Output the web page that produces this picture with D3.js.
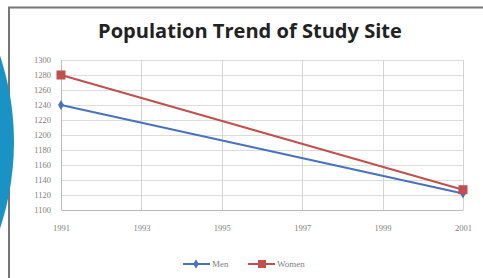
<!DOCTYPE html>
<html><head><meta charset="utf-8">
<script src="https://cdn.jsdelivr.net/npm/d3@7"></script>
<style>html,body{margin:0;padding:0;background:#fff;}svg{display:block;}</style>
</head><body>
<svg id="c" width="483" height="278"></svg>
<script>
const title = "Population Trend of Study Site";
const years = [1991, 2001];
const menValues = [1240, 1122];
const womenValues = [1280, 1127];
const xTicks = [1991, 1993, 1995, 1997, 1999, 2001];
const yTicks = [1100,1120,1140,1160,1180,1200,1220,1240,1260,1280,1300];
const seriesNames = ["Men", "Women"];
const colors = ["#4A72B8", "#C0504D"];

const svg = d3.select("#c");
const W = 483, H = 278;
const m = {left: 61, right: 20, top: 60, bottom: 68};

// frame
svg.append("line").attr("x1", 8).attr("x2", W).attr("y1", 7.5).attr("y2", 7.5).attr("stroke", "#777").attr("stroke-width", 2);
svg.append("line").attr("x1", 9).attr("x2", 9).attr("y1", 7).attr("y2", H).attr("stroke", "#777").attr("stroke-width", 2);

const x = d3.scaleLinear().domain([1991, 2001]).range([m.left, W - m.right]);
const y = d3.scaleLinear().domain([1100, 1300]).range([H - m.bottom, m.top]);

// gridlines
svg.append("g").selectAll("line").data(yTicks).join("line")
  .attr("x1", m.left).attr("x2", W - m.right)
  .attr("y1", d => Math.round(y(d)) + 0.5).attr("y2", d => Math.round(y(d)) + 0.5)
  .attr("stroke", "#dcdcdc").attr("stroke-width", 1);
svg.append("g").selectAll("line").data(xTicks).join("line")
  .attr("x1", d => Math.round(x(d)) + 0.5).attr("x2", d => Math.round(x(d)) + 0.5)
  .attr("y1", m.top).attr("y2", H - m.bottom)
  .attr("stroke", "#d4d4d4").attr("stroke-width", 1);

// axes
const yAxis = svg.append("g").attr("transform", `translate(${m.left},0)`)
  .call(d3.axisLeft(y).tickValues(yTicks).tickSize(0).tickPadding(10).tickFormat(d3.format("d")));
yAxis.select(".domain").attr("stroke", "#bbb");
yAxis.selectAll("text").attr("fill", "#808080").style("font", "8.5px 'Liberation Serif', serif");

const xAxis = svg.append("g").attr("transform", `translate(0,${H - m.bottom})`)
  .call(d3.axisBottom(x).tickValues(xTicks).tickSize(0).tickPadding(15).tickFormat(d3.format("d")));
xAxis.select(".domain").attr("stroke", "#bbb");
xAxis.selectAll("text").attr("fill", "#808080").style("font", "8.5px 'Liberation Serif', serif");

// lines
const line = d3.line().x((d, i) => x(years[i])).y(d => y(d));
[menValues, womenValues].forEach((vals, k) => {
  svg.append("path").datum(vals).attr("d", line).attr("fill", "none")
    .attr("stroke", colors[k]).attr("stroke-width", 2);
});
// markers
svg.append("g").selectAll("path").data(menValues).join("path")
  .attr("d", d3.symbol(d3.symbolDiamond, 30))
  .attr("transform", (d, i) => `translate(${x(years[i])},${y(d)})`)
  .attr("fill", colors[0]);
svg.append("g").selectAll("rect").data(womenValues).join("rect")
  .attr("x", (d, i) => x(years[i]) - 4.5).attr("y", d => y(d) - 4.5)
  .attr("width", 9).attr("height", 9).attr("fill", colors[1]);

// title
const t = svg.append("text").attr("x", 250).attr("y", 38).attr("text-anchor", "middle")
  .style("font-family", "'Open Sans', sans-serif").style("font-weight", "bold").style("font-size", "16px")
  .attr("fill", "#222").text(title);
const tw = t.node().getComputedTextLength();
t.style("font-size", (16 * 304 / tw) + "px");

// legend
const leg = svg.append("g");
const lx = [183, 248];
seriesNames.forEach((n, k) => {
  leg.append("line").attr("x1", lx[k]).attr("x2", lx[k] + 27).attr("y1", 264).attr("y2", 264)
    .attr("stroke", colors[k]).attr("stroke-width", 2);
  if (k === 0) leg.append("path").attr("d", d3.symbol(d3.symbolDiamond, 25)).attr("transform", `translate(${lx[k]+13},264)`).attr("fill", colors[k]);
  else leg.append("rect").attr("x", lx[k] + 10).attr("y", 260).attr("width", 8).attr("height", 8).attr("fill", colors[k]);
  leg.append("text").attr("x", lx[k] + 29).attr("y", 267).attr("fill", "#808080")
    .style("font", "9px 'Liberation Serif', serif").text(n);
});

// blue circle decoration
svg.append("circle").attr("cx", -260).attr("cy", 142).attr("r", 274).attr("fill", "#1A93C4");
</script>
</body></html>
